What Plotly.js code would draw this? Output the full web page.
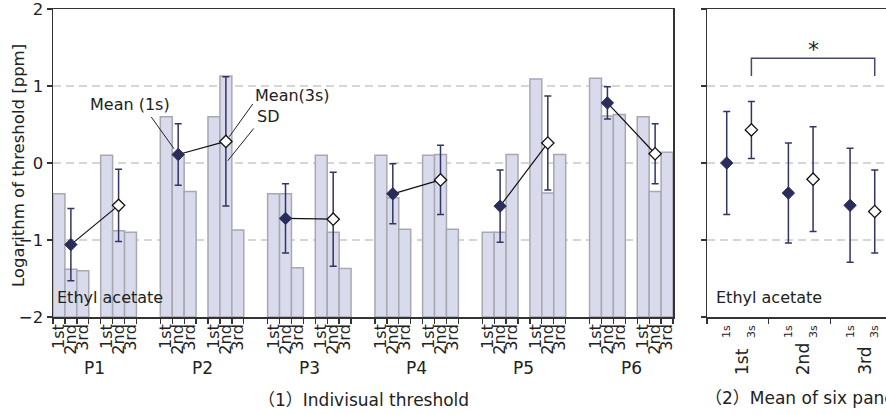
<!DOCTYPE html>
<html>
<head>
<meta charset="utf-8">
<script src="https://cdn.plot.ly/plotly-3.0.1.min.js"></script>
<style>
  html, body { margin: 0; padding: 0; overflow: hidden; background: #fff; }
  #chart { width: 900px; height: 414px; }
</style>
</head>
<body>
<div id="chart"></div>
<script>
// ---- data: log10 of odour threshold [ppm], ethyl acetate ----
const panelists = ['P1', 'P2', 'P3', 'P4', 'P5', 'P6'];
const trials = ['1st', '2nd', '3rd'];
const sessions = ['1s', '3s'];

// individual thresholds, one row per panelist, columns = 1st, 2nd, 3rd trial
const thr1s = [
  [-0.40, -1.38, -1.40],
  [ 0.60,  0.10, -0.37],
  [-0.40, -0.40, -1.36],
  [ 0.10, -0.45, -0.86],
  [-0.90, -0.90,  0.11],
  [ 1.10,  0.61,  0.63]
];
const thr3s = [
  [ 0.10, -0.88, -0.90],
  [ 0.60,  1.13, -0.87],
  [ 0.10, -0.90, -1.37],
  [ 0.10,  0.11, -0.86],
  [ 1.09, -0.39,  0.11],
  [ 0.60, -0.37,  0.14]
];
// per-panelist mean and SD over the three trials
const mean1s = [-1.06,  0.11, -0.72, -0.40, -0.56,  0.78];
const sd1s   = [ 0.47,  0.40,  0.45,  0.39,  0.47,  0.21];
const mean3s = [-0.55,  0.28, -0.73, -0.22,  0.26,  0.12];
const sd3s   = [ 0.47,  0.84,  0.61,  0.45,  0.61,  0.39];

// mean of six panelists for each trial
const meanAll1s = [ 0.00, -0.39, -0.55];
const sdAll1s   = [ 0.67,  0.65,  0.74];
const meanAll3s = [ 0.43, -0.21, -0.63];
const sdAll3s   = [ 0.37,  0.68,  0.54];

// ---- layout helpers (slot units along the x axes) ----
const FLOOR = -2;                 // bars rise from the bottom of the axis
const SLOTS_PER_PANELIST = 9;     // 3 bars, gap, 3 bars, 2-slot gap
const SESSION_OFFSET = 4;
const GROUP_W = 5;                // right panel: one group per trial
const POS_1S = 1.6, POS_3S = 3.6;

const FONT = "'DejaVu Sans', 'Noto Sans CJK JP', sans-serif";
const NAVY = 'rgb(42,44,90)';
const ERR = 'rgb(50,52,102)';
const AXIS = '#333';
const BAR_FILL = 'rgb(217,219,237)';
const BAR_LINE = 'rgb(168,168,178)';

const barX = (p, s, t) => p * SLOTS_PER_PANELIST + s * SESSION_OFFSET + t + 0.5;
const meanX = (p, s) => barX(p, s, 1);
const grpX = (g, pos) => g * GROUP_W + pos;

// ---- bars ----
const bx = [], by = [], btxt = [];
panelists.forEach((name, p) => {
  [thr1s, thr3s].forEach((tbl, s) => {
    tbl[p].forEach((v, t) => {
      bx.push(barX(p, s, t));
      by.push(v - FLOOR);
      btxt.push(name + ' ' + sessions[s] + ' ' + trials[t]);
    });
  });
});

const tickBounds = [], labelPos = [], labelTxt = [];
panelists.forEach((_, p) => {
  [0, 1].forEach(s => {
    for (let k = 0; k <= 3; k++) tickBounds.push(p * SLOTS_PER_PANELIST + s * SESSION_OFFSET + k);
    trials.forEach((tr, t) => { labelPos.push(barX(p, s, t)); labelTxt.push(tr); });
  });
});

const traces = [];
// bars sit on the base axis 'x'; means are drawn on the overlaid 'x2' above them
traces.push({
  type: 'bar', x: bx, y: by, base: FLOOR, width: 1, text: btxt, hoverinfo: 'text',
  textposition: 'none',
  marker: { color: BAR_FILL, line: { color: BAR_LINE, width: 1.5 } },
  xaxis: 'x', yaxis: 'y'
});

// connector between the 1s and 3s means of each panelist
const lx = [], ly = [];
panelists.forEach((_, p) => {
  lx.push(meanX(p, 0), meanX(p, 1), null);
  ly.push(mean1s[p], mean3s[p], null);
});
traces.push({
  type: 'scatter', mode: 'lines', x: lx, y: ly, line: { color: '#111', width: 1.2 },
  hoverinfo: 'skip', xaxis: 'x2', yaxis: 'y'
});

const errStyle = arr => ({ type: 'data', array: arr, visible: true, color: ERR, thickness: 1.5, width: 3.5 });
const mk1s = { symbol: 'diamond', size: 9.5, color: NAVY, line: { color: NAVY, width: 1 } };
const mk3s = { symbol: 'diamond', size: 9.5, color: '#fff', line: { color: '#111', width: 1.3 } };

traces.push({
  type: 'scatter', mode: 'markers', name: 'Mean (1s)',
  x: panelists.map((_, p) => meanX(p, 0)), y: mean1s,
  error_y: errStyle(sd1s), marker: mk1s, xaxis: 'x2', yaxis: 'y'
});
traces.push({
  type: 'scatter', mode: 'markers', name: 'Mean (3s)',
  x: panelists.map((_, p) => meanX(p, 1)), y: mean3s,
  error_y: errStyle(sd3s), marker: mk3s, xaxis: 'x2', yaxis: 'y'
});

// ---- right panel: mean of six panelists ----
traces.push({
  type: 'scatter', mode: 'markers', name: 'Mean of six (1s)',
  x: trials.map((_, g) => grpX(g, POS_1S)), y: meanAll1s,
  error_y: errStyle(sdAll1s), marker: mk1s, xaxis: 'x3', yaxis: 'y2'
});
traces.push({
  type: 'scatter', mode: 'markers', name: 'Mean of six (3s)',
  x: trials.map((_, g) => grpX(g, POS_3S)), y: meanAll3s,
  error_y: errStyle(sdAll3s), marker: mk3s, xaxis: 'x4', yaxis: 'y2'
});

const subPos = [], subTxt = [];
trials.forEach((_, g) => {
  subPos.push(grpX(g, POS_1S), grpX(g, POS_3S));
  subTxt.push(sessions[0], sessions[1]);
});

// ---- axes ----
const PLOT_W = 900 - 53 - 8;
const PLOT_H = 414 - 9 - 97;
const leftDom = [0, 620 / PLOT_W];
const rightDom = [654 / PLOT_W, 1];
const LEFT_RANGE = [0, panelists.length * SLOTS_PER_PANELIST - 2];
const RIGHT_RANGE = [0, trials.length * GROUP_W];

const yBase = {
  range: [-2, 2], tickmode: 'array', tickvals: [-2, -1, 0, 1, 2],
  ticks: 'outside', ticklen: 5, tickwidth: 1.3, tickcolor: AXIS,
  showline: true, linecolor: AXIS, linewidth: 1.5, mirror: true,
  showgrid: true, gridcolor: '#d6d6d6', gridwidth: 1.5, griddash: '8px,5px',
  zeroline: false, fixedrange: true
};

const layout = {
  width: 900, height: 414,
  margin: { l: 53, r: 8, t: 9, b: 97 },
  paper_bgcolor: '#fff', plot_bgcolor: '#fff',
  showlegend: false,
  font: { family: FONT, size: 16, color: '#222' },
  bargap: 0,
  xaxis: {
    domain: leftDom, range: LEFT_RANGE, tickmode: 'array', tickvals: tickBounds,
    showticklabels: false, ticks: 'outside', ticklen: 5, tickwidth: 1.3, tickcolor: AXIS,
    showline: true, linecolor: AXIS, linewidth: 1.5, mirror: true,
    showgrid: false, zeroline: false, fixedrange: true
  },
  xaxis2: {
    overlaying: 'x', anchor: 'y', domain: leftDom, range: LEFT_RANGE,
    tickmode: 'array', tickvals: labelPos, ticktext: labelTxt, tickangle: -90,
    ticks: '', showline: false, showgrid: false, zeroline: false, ticklabelstandoff: 3,
    tickfont: { size: 16, color: '#222' }, fixedrange: true
  },
  yaxis: Object.assign({}, yBase, {
    anchor: 'x', domain: [0, 1], ticklabeloverflow: 'allow',
    tickfont: { size: 16.5, color: '#222' }
  }),
  xaxis3: {
    domain: rightDom, range: RIGHT_RANGE, anchor: 'y2', tickmode: 'array',
    tickvals: trials.map((_, g) => g * GROUP_W).concat([RIGHT_RANGE[1]]),
    showticklabels: false, ticks: 'outside', ticklen: 5, tickwidth: 1.3, tickcolor: AXIS,
    showline: true, linecolor: AXIS, linewidth: 1.5, mirror: true,
    showgrid: false, zeroline: false, fixedrange: true
  },
  xaxis4: {
    overlaying: 'x3', anchor: 'y2', domain: rightDom, range: RIGHT_RANGE,
    tickmode: 'array', tickvals: subPos, ticktext: subTxt, tickangle: -90,
    ticks: '', showline: false, showgrid: false, zeroline: false, ticklabelstandoff: 5,
    tickfont: { size: 11, color: '#222' }, fixedrange: true
  },
  yaxis2: Object.assign({}, yBase, { anchor: 'x3', domain: [0, 1], showticklabels: false }),
  annotations: [],
  shapes: []
};

// y axis title
layout.annotations.push({
  xref: 'paper', yref: 'paper', x: -35 / PLOT_W, y: 0.49, xanchor: 'center', yanchor: 'middle',
  textangle: -90, text: 'Logarithm of threshold [ppm]', showarrow: false, font: { size: 16.5 }
});

// panelist labels under each pair of groups
panelists.forEach((name, p) => {
  layout.annotations.push({
    xref: 'x', yref: 'paper', x: p * SLOTS_PER_PANELIST + 3.5, y: -51 / PLOT_H,
    text: name, showarrow: false, font: { size: 17 }, yanchor: 'middle'
  });
});
// trial labels of the right panel
trials.forEach((tr, g) => {
  layout.annotations.push({
    xref: 'x3', yref: 'paper', x: g * GROUP_W + 2.8, y: -60 / PLOT_H,
    text: tr, textangle: -90, showarrow: false, font: { size: 17 }
  });
});

// panel captions
layout.annotations.push({
  xref: 'x', yref: 'paper', x: LEFT_RANGE[1] / 2, y: -83 / PLOT_H,
  text: '（1）Indivisual threshold', showarrow: false, font: { size: 17 }, yanchor: 'middle'
});
layout.annotations.push({
  xref: 'x3', yref: 'paper', x: 0, y: -81 / PLOT_H, xanchor: 'left', xshift: -4,
  text: '（2）Mean of six panelists', showarrow: false, font: { size: 17 }, yanchor: 'middle'
});

// substance labels
layout.annotations.push({
  xref: 'x', yref: 'y', x: 0.2, y: -1.75, xanchor: 'left', yanchor: 'middle',
  text: 'Ethyl acetate', showarrow: false, font: { size: 16 }
});
layout.annotations.push({
  xref: 'x3', yref: 'y2', x: 0.6, y: -1.75, xanchor: 'left', yanchor: 'middle',
  text: 'Ethyl acetate', showarrow: false, font: { size: 16 }
});

// explanatory labels with leader lines (on panelist P2)
const P_EX = 1;
layout.annotations.push({
  xref: 'x', yref: 'y', x: 6.46, y: 0.76, text: 'Mean (1s)', showarrow: false, font: { size: 16 }
});
layout.annotations.push({
  xref: 'x', yref: 'y', x: 16.8, y: 0.88, xanchor: 'left', text: 'Mean(3s)', showarrow: false, font: { size: 16 }
});
layout.annotations.push({
  xref: 'x', yref: 'y', x: 16.9, y: 0.60, xanchor: 'left', text: 'SD', showarrow: false, font: { size: 16 }
});
layout.annotations.push({
  xref: 'x', yref: 'y', x: meanX(P_EX, 0), y: mean1s[P_EX], text: '', showarrow: true,
  arrowhead: 0, arrowwidth: 1, arrowcolor: '#222', ax: -28, ay: -39, standoff: 7
});
layout.annotations.push({
  xref: 'x', yref: 'y', x: meanX(P_EX, 1), y: mean3s[P_EX], text: '', showarrow: true,
  arrowhead: 0, arrowwidth: 1, arrowcolor: '#222', ax: 28, ay: -39, standoff: 6
});
layout.annotations.push({
  xref: 'x', yref: 'y', x: meanX(P_EX, 1), y: 0.0, text: '', showarrow: true,
  arrowhead: 0, arrowwidth: 1, arrowcolor: '#222', ax: 29, ay: -36, standoff: 3
});

// significance bracket between 1st and 3rd trial (3s)
const brL = grpX(0, POS_3S), brR = grpX(2, POS_3S);
const brTop = 1.36, brLeg = 1.13;
layout.shapes.push({
  type: 'path', xref: 'x3', yref: 'y2',
  path: `M ${brL},${brLeg} L ${brL},${brTop} L ${brR},${brTop} L ${brR},${brLeg}`,
  line: { color: 'rgb(70,72,115)', width: 1.5 }
});
layout.annotations.push({
  xref: 'x3', yref: 'y2', x: (brL + brR) / 2, y: brTop, yanchor: 'bottom', yshift: -6,
  text: '*', showarrow: false, font: { size: 22, color: '#222' }
});

Plotly.newPlot('chart', traces, layout, { displayModeBar: false, staticPlot: true });
</script>
</body>
</html>
